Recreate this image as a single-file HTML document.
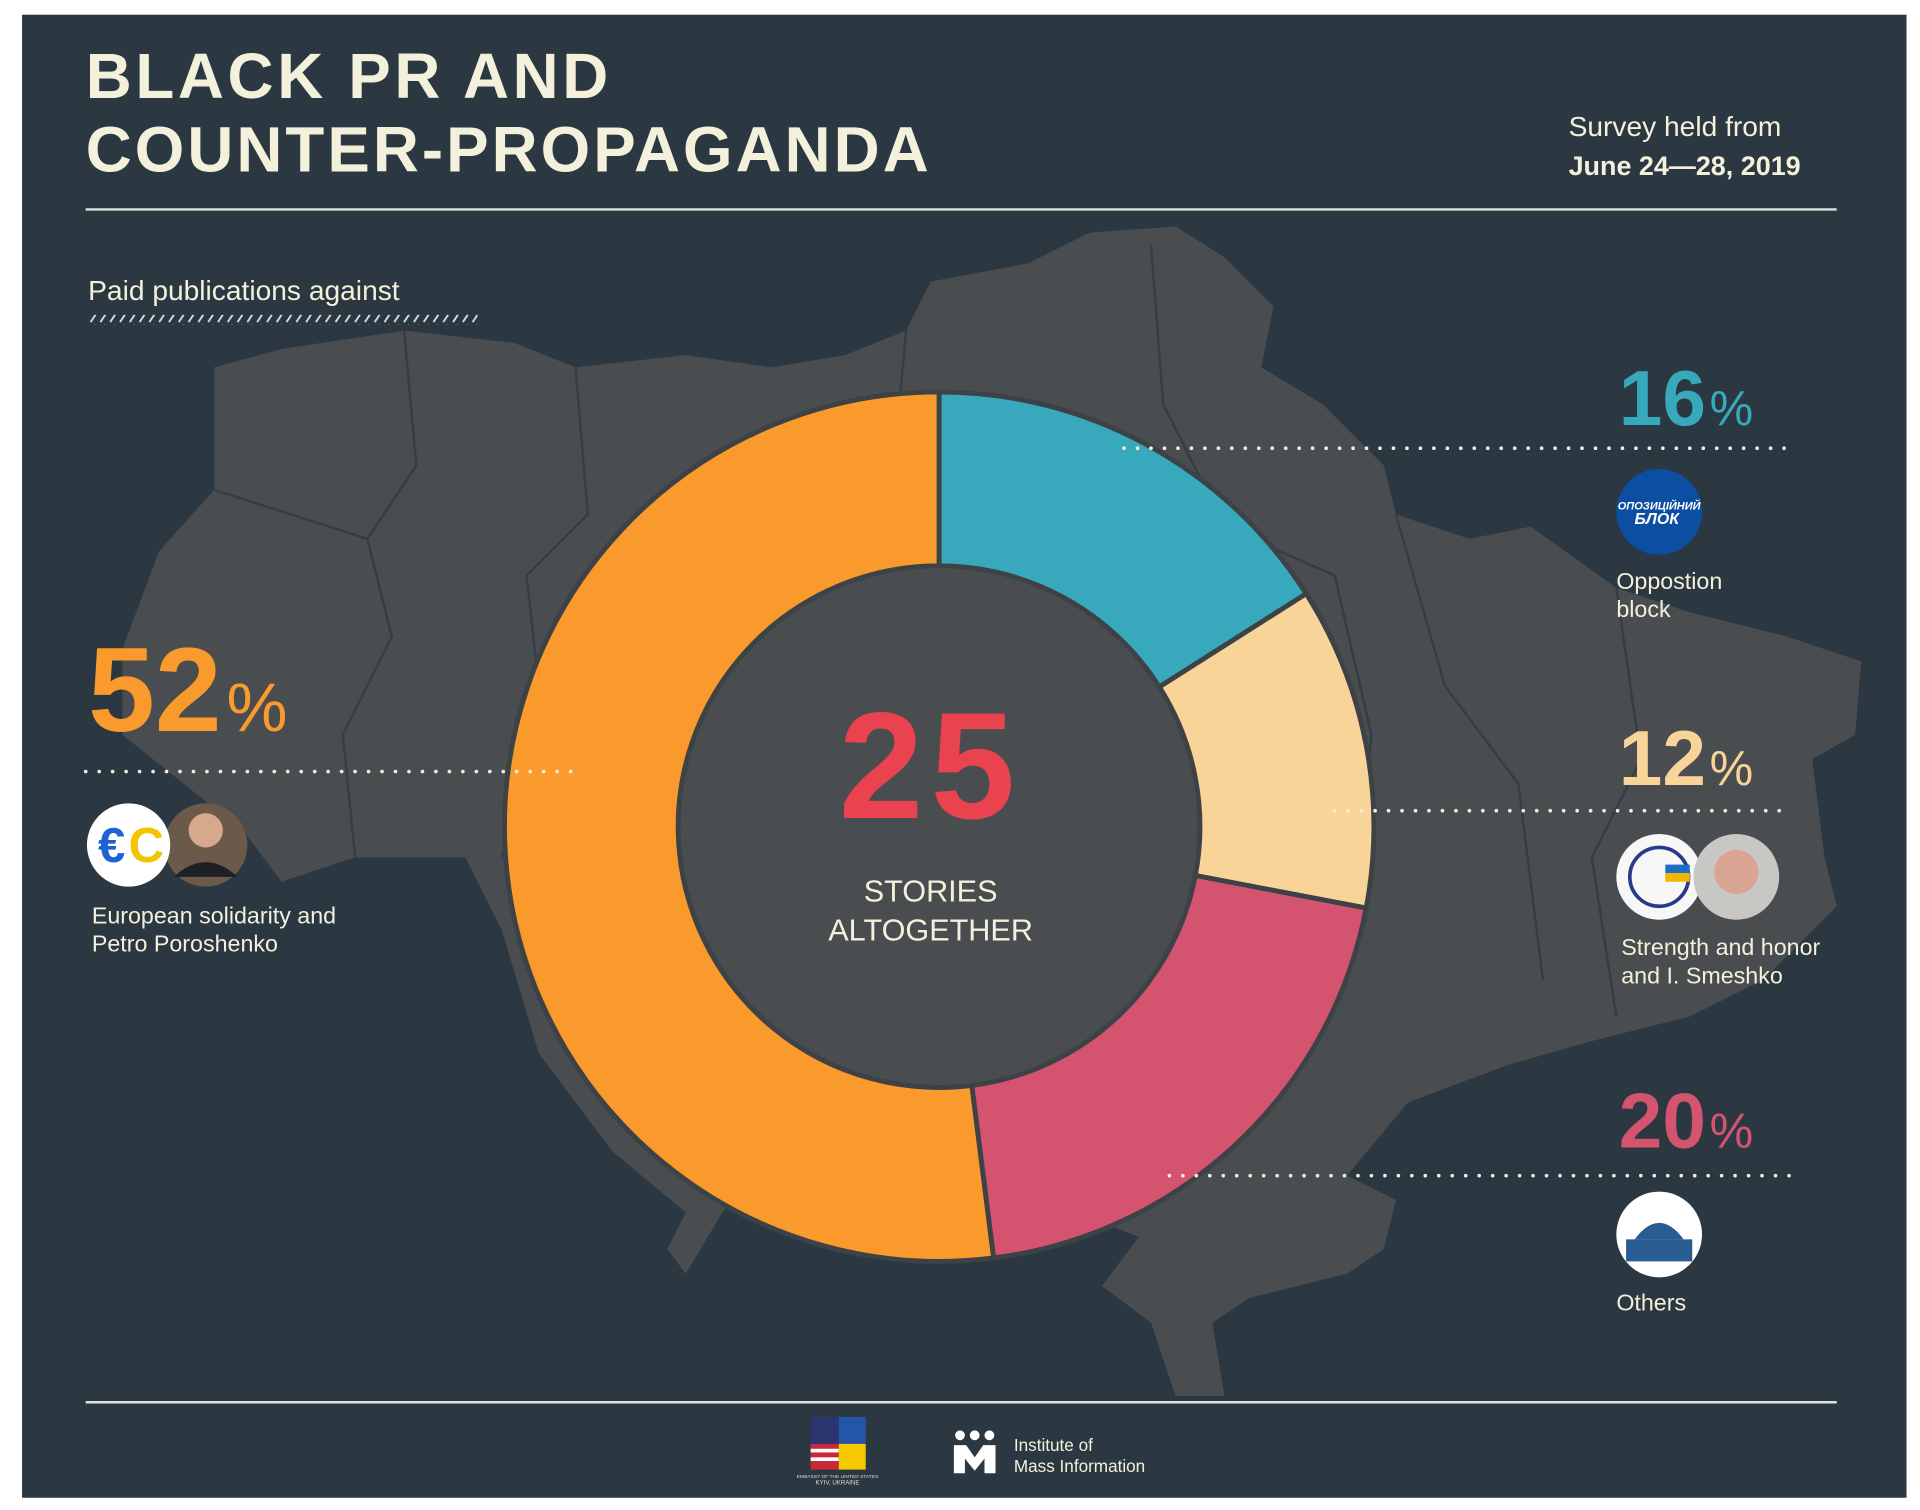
<!DOCTYPE html>
<html><head><meta charset="utf-8"><style>
html,body{margin:0;padding:0;background:#fff;}
svg{display:block;}
text{font-family:"Liberation Sans",sans-serif;}
</style></head><body>
<svg width="1920" height="1510" viewBox="0 0 1568 1233" preserveAspectRatio="none" xmlns="http://www.w3.org/2000/svg">
<defs>
<pattern id="sl" x="0" y="0" width="8" height="8" patternUnits="userSpaceOnUse">
<line x1="2" y1="7" x2="6" y2="1" stroke="#dfe3e0" stroke-width="1.5"/>
</pattern>
</defs>
<rect x="0" y="0" width="1568" height="1233" fill="#fff"/>
<rect x="18" y="12" width="1539" height="1211" fill="#2c3841"/>
<!-- map -->
<polygon fill="#4a4d50" points="100,530 130,450 175,400 175,300 230,285 330,270 420,280 470,300 560,290 630,300 690,290 740,270 760,230 840,215 890,190 960,185 1000,210 1040,250 1030,300 1080,330 1130,380 1140,420 1200,440 1250,430 1320,480 1380,500 1460,520 1520,540 1515,600 1480,620 1490,700 1500,740 1440,800 1380,830 1300,850 1230,870 1150,900 1100,960 1140,980 1130,1020 1100,1040 1020,1060 990,1080 1000,1140 960,1140 940,1080 900,1050 930,1010 880,990 820,1000 760,990 700,960 620,950 590,990 560,1040 545,1020 560,990 500,940 440,860 410,760 380,700 290,700 230,720 200,680 150,640 100,600"/>
<g fill="none" stroke="#2f3a42" stroke-width="2" opacity="0.8">
<path d="M330,270 L340,380 L300,440 L320,520 L280,600 L290,700"/>
<path d="M470,300 L480,420 L430,470 L440,560 L410,700"/>
<path d="M740,270 L730,380 L700,460"/>
<path d="M940,200 L950,330 L1000,430 L1090,470 L1120,600 L1110,700"/>
<path d="M1140,420 L1180,560 L1240,640 L1260,800"/>
<path d="M175,400 L300,440"/>
<path d="M1320,480 L1340,620 L1300,700 L1320,830"/>
</g>
<!-- donut -->
<g stroke="#3d4246" stroke-width="4" stroke-linejoin="miter">
<path fill="#fa9a2c" d="M811.5,1027.2 A355,355 0 1 1 767,320 L767,462 A213,213 0 1 0 793.7,886.3 Z"/>
<path fill="#38a9bc" d="M767,320 A355,355 0 0 1 1066.7,484.8 L946.8,560.9 A213,213 0 0 0 767,462 Z"/>
<path fill="#f9d499" d="M1066.7,484.8 A355,355 0 0 1 1115.7,741.5 L976.2,714.9 A213,213 0 0 0 946.8,560.9 Z"/>
<path fill="#d45470" d="M1115.7,741.5 A355,355 0 0 1 811.5,1027.2 L793.7,886.3 A213,213 0 0 0 976.2,714.9 Z"/>
</g>
<text x="760" y="668" text-anchor="middle" font-size="124" font-weight="bold" fill="#e8434f" letter-spacing="6">25</text>
<text x="760" y="736" text-anchor="middle" font-size="25" fill="#f3f0dc">STORIES</text>
<text x="760" y="768" text-anchor="middle" font-size="25" fill="#f3f0dc">ALTOGETHER</text>
<!-- title -->
<text x="70" y="80" font-size="52" font-weight="bold" fill="#f3f0dc" letter-spacing="3">BLACK PR AND</text>
<text x="70" y="140" font-size="52" font-weight="bold" fill="#f3f0dc" letter-spacing="2.5">COUNTER-PROPAGANDA</text>
<text x="1281" y="111" font-size="23" fill="#f3f0dc">Survey held from</text>
<text x="1281" y="143" font-size="22" font-weight="bold" fill="#f3f0dc">June 24—28, 2019</text>
<line x1="70" y1="171" x2="1500" y2="171" stroke="#dfe3e0" stroke-width="2"/>
<text x="72" y="245" font-size="23" fill="#f3f0dc">Paid publications against</text>
<rect x="72" y="257" width="318" height="8" fill="url(#sl)"/>
<!-- 52 -->
<text x="72" y="597" font-size="98" font-weight="bold" fill="#fa9a2c">52<tspan font-size="56" font-weight="normal" dx="4">%</tspan></text>
<line x1="70" y1="630" x2="468" y2="630" stroke="#f3f0dc" stroke-width="3" stroke-linecap="round" stroke-dasharray="0,11"/>
<circle cx="168" cy="690" r="34" fill="#6b5a4a"/>
<circle cx="168" cy="678" r="14" fill="#d6a98d"/>
<path d="M142,716 Q168,692 194,716 Z" fill="#1e2026"/>
<circle cx="105" cy="690" r="34" fill="#fff"/>
<text x="80" y="704" font-size="40" font-weight="bold" fill="#1d63d6">€</text>
<text x="105" y="704" font-size="40" font-weight="bold" fill="#f2c500">C</text>
<text x="75" y="754" font-size="19" fill="#f3f0dc">European solidarity and</text>
<text x="75" y="777" font-size="19" fill="#f3f0dc">Petro Poroshenko</text>
<!-- 16 -->
<text x="1322" y="347" font-size="64" font-weight="bold" fill="#38a9bc">16<tspan font-size="40" font-weight="normal" dx="3">%</tspan></text>
<line x1="918" y1="366" x2="1462" y2="366" stroke="#f3f0dc" stroke-width="3" stroke-linecap="round" stroke-dasharray="0,11"/>
<circle cx="1355" cy="418" r="35" fill="#0b4ea2"/>
<text x="1355" y="416" text-anchor="middle" font-size="9" font-weight="bold" fill="#fff" font-style="italic">ОПОЗИЦІЙНИЙ</text>
<text x="1353" y="428" text-anchor="middle" font-size="13" font-weight="bold" fill="#fff" font-style="italic">БЛОК</text>
<text x="1320" y="481" font-size="19" fill="#f3f0dc">Oppostion</text>
<text x="1320" y="504" font-size="19" fill="#f3f0dc">block</text>
<!-- 12 -->
<text x="1322" y="641" font-size="64" font-weight="bold" fill="#f9d499">12<tspan font-size="40" font-weight="normal" dx="3">%</tspan></text>
<line x1="1090" y1="662" x2="1462" y2="662" stroke="#f3f0dc" stroke-width="3" stroke-linecap="round" stroke-dasharray="0,11"/>
<circle cx="1355" cy="716" r="35" fill="#f7f7f7"/>
<circle cx="1355" cy="716" r="24" fill="none" stroke="#2a3a8a" stroke-width="3"/>
<rect x="1360" y="706" width="20" height="7" fill="#1f6fc0"/><rect x="1360" y="713" width="20" height="7" fill="#f2b600"/>
<circle cx="1418" cy="716" r="35" fill="#c9c7c4"/>
<circle cx="1418" cy="712" r="18" fill="#d9a491"/>
<text x="1324" y="780" font-size="19" fill="#f3f0dc">Strength and honor</text>
<text x="1324" y="803" font-size="19" fill="#f3f0dc">and I. Smeshko</text>
<!-- 20 -->
<text x="1322" y="937" font-size="64" font-weight="bold" fill="#d45470">20<tspan font-size="40" font-weight="normal" dx="3">%</tspan></text>
<line x1="955" y1="960" x2="1462" y2="960" stroke="#f3f0dc" stroke-width="3" stroke-linecap="round" stroke-dasharray="0,11"/>
<circle cx="1355" cy="1008" r="35" fill="#fff"/>
<rect x="1328" y="1012" width="54" height="18" fill="#2a5c94"/>
<path d="M1335,1012 Q1355,985 1375,1012 Z" fill="#2a5c94"/>
<text x="1320" y="1070" font-size="19" fill="#f3f0dc">Others</text>
<!-- footer -->
<line x1="70" y1="1145" x2="1500" y2="1145" stroke="#dfe3e0" stroke-width="2"/>
<rect x="662" y="1157" width="23" height="22" fill="#2a3570"/>
<rect x="685" y="1157" width="22" height="22" fill="#2355a8"/>
<rect x="662" y="1179" width="23" height="21" fill="#c8283a"/>
<rect x="662" y="1183" width="23" height="3" fill="#fff"/><rect x="662" y="1190" width="23" height="3" fill="#fff"/>
<rect x="685" y="1179" width="22" height="21" fill="#f5c800"/>
<text x="684" y="1207" text-anchor="middle" font-size="4" fill="#ddd" font-family="Liberation Serif,serif">EMBASSY OF THE UNITED STATES</text>
<text x="684" y="1212" text-anchor="middle" font-size="5" fill="#ddd" font-family="Liberation Serif,serif">KYIV, UKRAINE</text>
<circle cx="784" cy="1172" r="4" fill="#fff"/><circle cx="796" cy="1172" r="4" fill="#fff"/><circle cx="808" cy="1172" r="4" fill="#fff"/>
<path d="M779,1180 h10 l7,10 l7,-10 h10 v23 h-9 v-12 l-8,10 l-8,-10 v12 h-9 Z" fill="#fff"/>
<text x="828" y="1185" font-size="14" fill="#f3f0dc" font-family="Liberation Sans Narrow,Liberation Sans,sans-serif">Institute of</text>
<text x="828" y="1202" font-size="14" fill="#f3f0dc" font-family="Liberation Sans Narrow,Liberation Sans,sans-serif">Mass Information</text>
</svg>
</body></html>
